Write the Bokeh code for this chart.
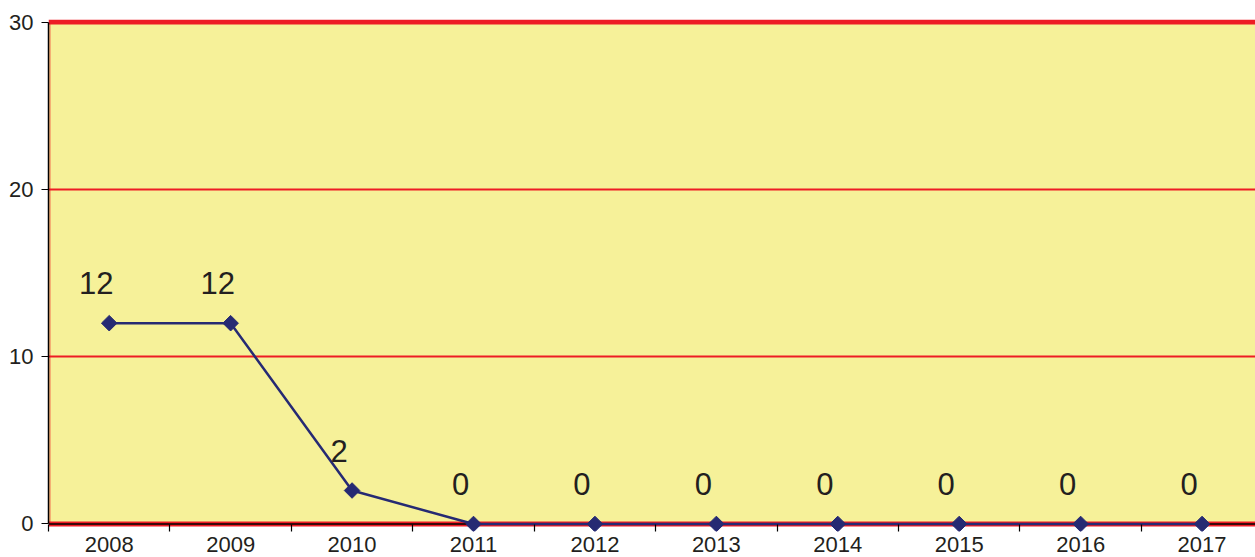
import math
from bokeh.plotting import figure
from bokeh.models import Range1d, FixedTicker, Span, ColumnDataSource, BoxAnnotation
from bokeh.core.properties import value
from bokeh.embed import file_html
from bokeh.resources import INLINE

years = ["2008", "2009", "2010", "2011", "2012", "2013", "2014", "2015", "2016", "2017"]
counts = [12, 12, 2, 0, 0, 0, 0, 0, 0, 0]
y_ticks = [0, 10, 20, 30]

xs = list(range(len(years)))
src = ColumnDataSource(dict(x=xs, y=counts, label=[str(c) for c in counts]))

RED = "#ED1C24"
NAVY = "#262A73"
TXT = "#231F20"
YEL = "#F6F199"
FONT = "Liberation Sans"

p = figure(width=1255, height=557, output_backend="svg", toolbar_location=None,
           x_range=Range1d(-0.5, 9.44), y_range=Range1d(-0.45, 30.15),
           min_border_left=48, min_border_right=0, min_border_top=19, min_border_bottom=26,
           background_fill_color="white", border_fill_color="white")
p.outline_line_color = None

# yellow plot area from 0 to 30
p.add_layout(BoxAnnotation(bottom=0, top=30, fill_color=YEL, fill_alpha=1,
                           line_color=None, level="image"))
# red frame borders (left, top, bottom) and black base line at 0
p.add_layout(Span(location=30, dimension="width", line_color=RED, line_width=5, level="underlay"))
p.add_layout(Span(location=0, dimension="width", line_color=RED, line_width=5, level="underlay"))
p.add_layout(BoxAnnotation(left=-0.5, right=-0.5, bottom=0, top=30, fill_alpha=0,
                           line_color=RED, line_width=5, level="underlay"))
p.add_layout(Span(location=0, dimension="width", line_color="black", line_width=1.5, level="underlay"))

p.xgrid.visible = False
p.ygrid.grid_line_color = RED
p.ygrid.grid_line_width = 2
p.ygrid.ticker = FixedTicker(ticks=[10, 20])

# y axis
p.yaxis.ticker = FixedTicker(ticks=y_ticks)
p.yaxis.bounds = (0, 30)
p.yaxis.axis_line_color = "black"
p.yaxis.axis_line_width = 1.5
p.yaxis.major_tick_line_color = "black"
p.yaxis.major_tick_out = 7
p.yaxis.major_tick_in = 0
p.yaxis.minor_tick_line_color = None
p.yaxis.major_label_text_font = FONT
p.yaxis.major_label_text_font_size = "22px"
p.yaxis.major_label_text_color = TXT
p.yaxis.major_label_standoff = 8

# x axis: labels at centers, ticks at band boundaries
p.xaxis.ticker = FixedTicker(ticks=xs, minor_ticks=[i + 0.5 for i in range(-1, len(years))])
p.xaxis.major_label_overrides = {i: y for i, y in enumerate(years)}
p.xaxis.axis_line_color = None
p.xaxis.major_tick_line_color = None
p.xaxis.major_tick_out = 0
p.xaxis.major_tick_in = 0
p.xaxis.minor_tick_line_color = "black"
p.xaxis.minor_tick_line_width = 1.2
p.xaxis.minor_tick_out = 0
p.xaxis.minor_tick_in = 7
p.xaxis.major_label_text_font = FONT
p.xaxis.major_label_text_font_size = "22px"
p.xaxis.major_label_text_color = TXT
p.xaxis.major_label_standoff = 5

p.line("x", "y", source=src, line_color=NAVY, line_width=2.5)
p.scatter("x", "y", source=src, marker="square", angle=math.pi / 4, size=11,
          fill_color=NAVY, line_color=NAVY)
p.text("x", "y", text="label", source=src, x_offset=-13, y_offset=-40,
       text_align="center", text_baseline="middle", text_font=value(FONT),
       text_font_size="31px", text_color=TXT)

open("out.html", "w").write(file_html(p, INLINE))
